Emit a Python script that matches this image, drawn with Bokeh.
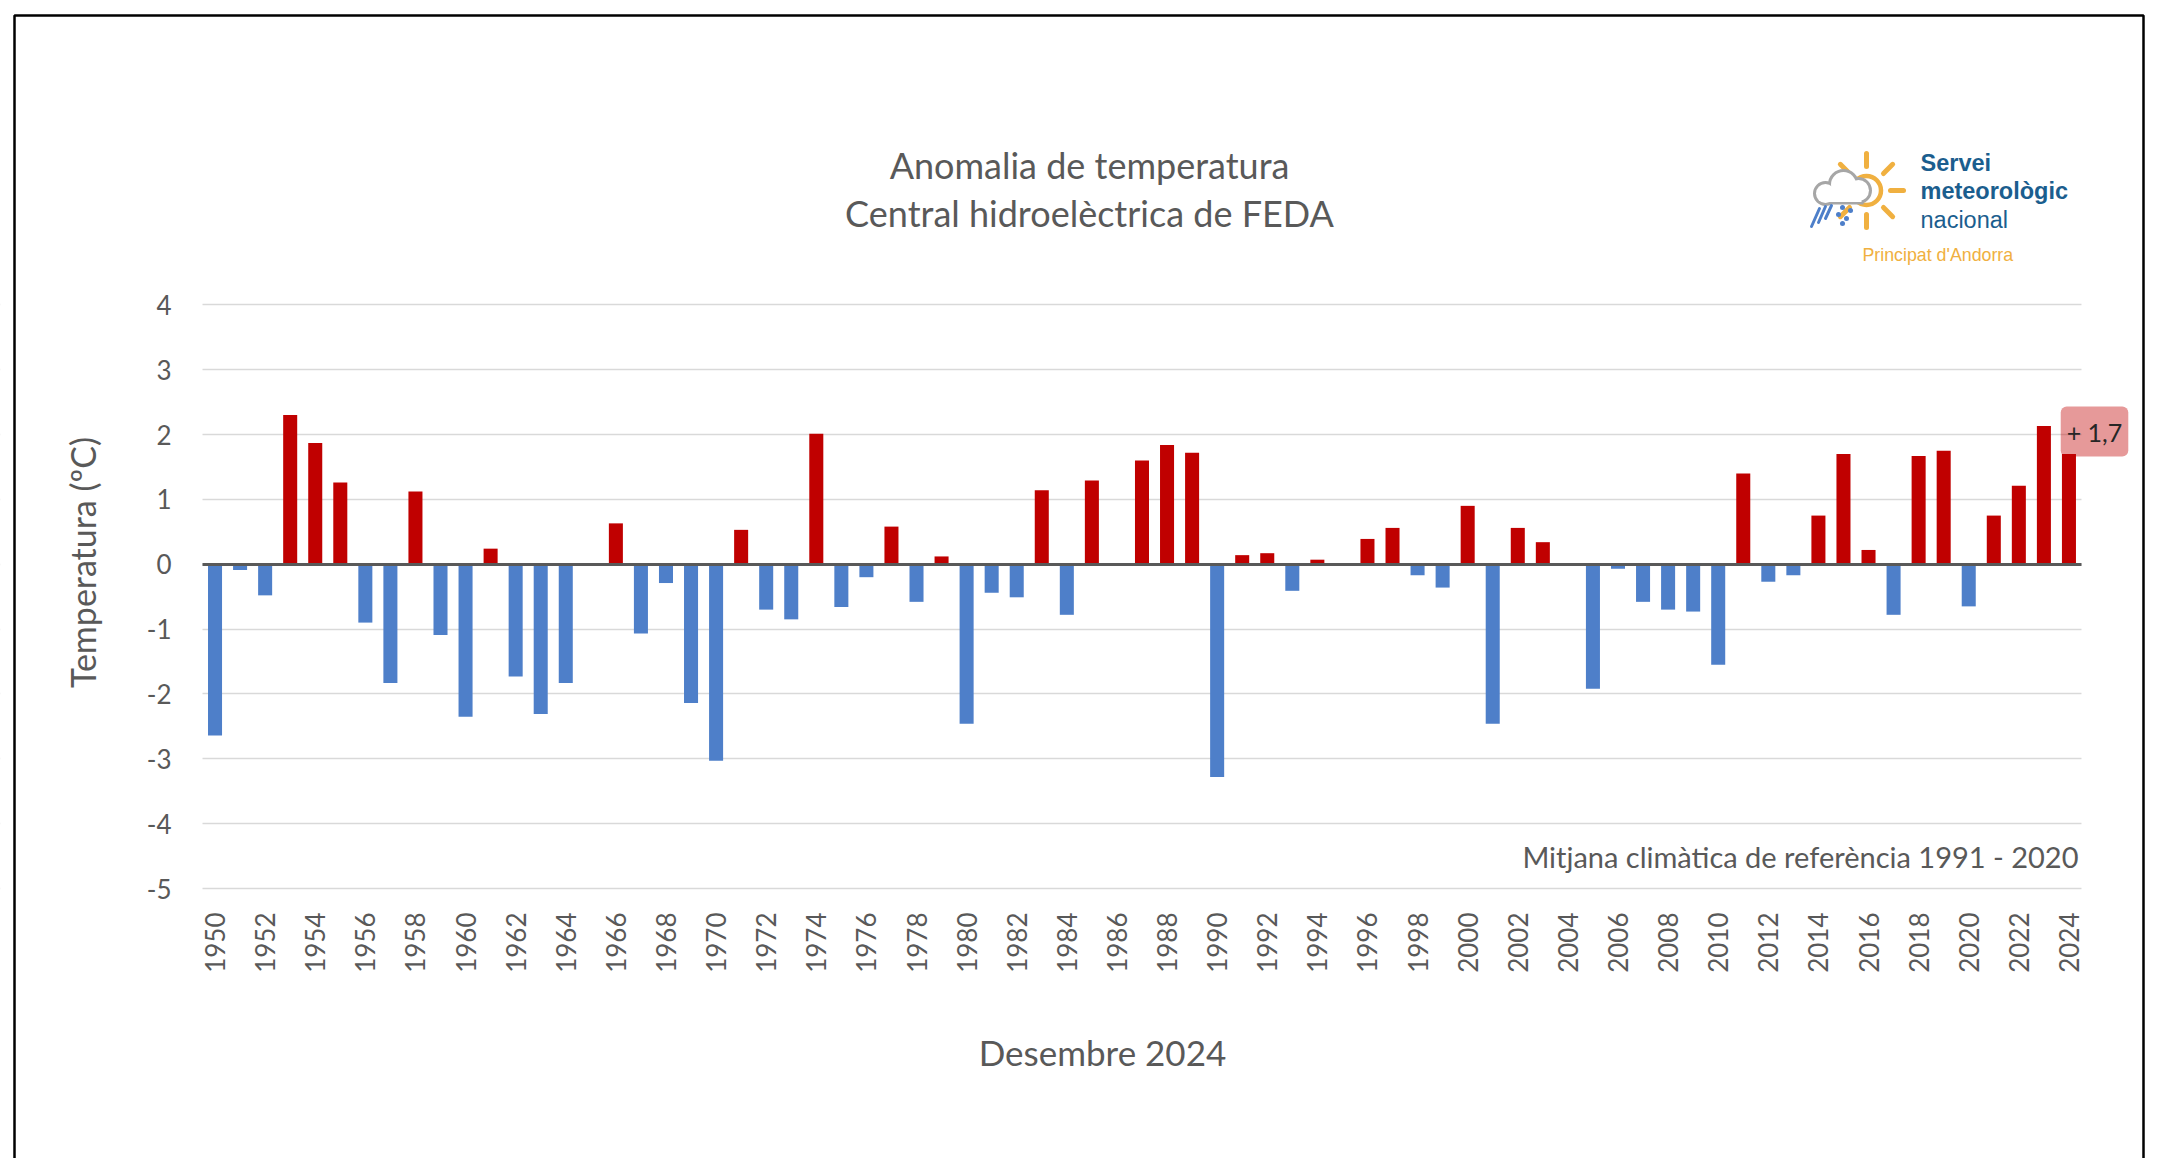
from math import pi, cos, sin, radians
from bokeh.plotting import figure
from bokeh.models import (ColumnDataSource, Range1d, FixedTicker, Label, BoxAnnotation,
                          LinearAxis, Grid)
from bokeh.embed import file_html
from bokeh.resources import INLINE

# ---------------- data ----------------
years = list(range(1950, 2025))
anomaly = [
    -2.64, -0.09, -0.48, 2.30, 1.87, 1.26, -0.90, -1.83, 1.12, -1.09,   # 1950-1959
    -2.35, 0.24, -1.73, -2.31, -1.83, 0.00, 0.63, -1.07, -0.29, -2.14,  # 1960-1969
    -3.03, 0.53, -0.70, -0.85, 2.01, -0.66, -0.20, 0.58, -0.58, 0.12,   # 1970-1979
    -2.46, -0.44, -0.51, 1.14, -0.78, 1.29, 0.00, 1.60, 1.84, 1.72,     # 1980-1989
    -3.28, 0.14, 0.17, -0.41, 0.07, 0.00, 0.39, 0.56, -0.17, -0.36,     # 1990-1999
    0.90, -2.46, 0.56, 0.34, 0.00, -1.92, -0.07, -0.58, -0.70, -0.73,   # 2000-2009
    -1.55, 1.40, -0.27, -0.17, 0.75, 1.70, 0.22, -0.78, 1.67, 1.75,     # 2010-2019
    -0.65, 0.75, 1.21, 2.13, 1.70,                                      # 2020-2024
]
tick_years = list(range(1950, 2025, 2))
y_ticks = list(range(-5, 5))
title_lines = ["Anomalia de temperatura", "Central hidroelèctrica de FEDA"]
y_title = "Temperatura (ºC)"
x_title = "Desembre 2024"
note = "Mitjana climàtica de referència 1991 - 2020"
logo_lines = ["Servei", "meteorològic", "nacional"]
logo_sub = "Principat d'Andorra"

RED = "#C00000"
BLUE = "#4E7FC9"
GREY_TXT = "#595959"
ORANGE = "#F0B040"
BLUE_LOGO = "#1B5E8E"
FONT = "Lato"

# plot-area extent in data units (bars + gridlines live inside it)
X0, X1 = years[0] - 0.5, years[-1] + 0.5
Y0, Y1 = y_ticks[0], y_ticks[-1]
# the frame covers the whole canvas; the chart area is placed inside it
PX_PER_YEAR = 25.053
PX_PER_UNIT = 64.856
LEFT_PX, TOP_PX = 202, 304.3
W, H = 2157, 1158
xs = X0 - LEFT_PX / PX_PER_YEAR
ys = Y1 + TOP_PX / PX_PER_UNIT

def px(xp):   # canvas pixel -> data x (for decoration placement)
    return xs + xp / PX_PER_YEAR

def py(yp):   # canvas pixel -> data y
    return ys - yp / PX_PER_UNIT

colors = [RED if v > 0 else BLUE for v in anomaly]
src = ColumnDataSource(dict(x=years, top=anomaly, color=colors))

p = figure(width=W, height=H, output_backend="svg", toolbar_location=None,
           x_range=Range1d(xs, xs + W / PX_PER_YEAR),
           y_range=Range1d(ys - H / PX_PER_UNIT, ys),
           x_axis_location=None, y_axis_location=None,
           min_border=0, min_border_left=0, min_border_right=0,
           min_border_top=0, min_border_bottom=0)
p.title.visible = False
p.outline_line_color = None
p.background_fill_color = "white"
p.border_fill_color = "white"

# axes placed at the chart-area edges
yax = LinearAxis(fixed_location=X0, ticker=FixedTicker(ticks=y_ticks))
xax = LinearAxis(fixed_location=Y0, ticker=FixedTicker(ticks=tick_years))
zax = LinearAxis(fixed_location=0, ticker=FixedTicker(ticks=[]), bounds=(X0, X1),
                 axis_line_color=GREY_TXT, axis_line_width=3)
zax.major_label_text_font_size = "0px"
p.add_layout(yax, "left")
p.add_layout(xax, "below")
for ax in (xax, yax):
    ax.axis_line_color = None
    ax.major_tick_line_color = None
    ax.minor_tick_line_color = None
    ax.major_tick_out = 0
    ax.major_tick_in = 0
    ax.major_label_text_font = FONT
    ax.major_label_text_font_size = "26px"
    ax.major_label_text_color = GREY_TXT
yax.major_label_overrides = {v: str(v) for v in y_ticks}
yax.major_label_standoff = 31
xax.major_label_standoff = 24
xax.major_label_orientation = pi / 2

p.xgrid.grid_line_color = None
p.ygrid.grid_line_color = None
grid = Grid(dimension=1, ticker=FixedTicker(ticks=y_ticks), grid_line_color="#D9D9D9",
            grid_line_width=1.5)
p.add_layout(grid, "center")
# limit gridlines to the chart area
p.add_layout(BoxAnnotation(right=X0, fill_color="white", fill_alpha=1, line_alpha=0, level="underlay"))
p.add_layout(BoxAnnotation(left=X1, fill_color="white", fill_alpha=1, line_alpha=0, level="underlay"))

p.vbar(x="x", top="top", bottom=0, width=0.56, color="color", source=src, line_width=0)
p.add_layout(zax, "below")

def lab(x, y, text, size, **kw):
    kw.setdefault("text_color", GREY_TXT)
    kw.setdefault("text_font", FONT)
    kw.setdefault("text_baseline", "alphabetic")
    p.add_layout(Label(x=x, y=y, text=text, text_font_size=size, **kw))

# titles
lab(px(1089), py(164), title_lines[0], "36px", text_align="center")
lab(px(1089), py(212), title_lines[1], "36px", text_align="center")
lab(px(82), py(562), y_title, "34px", angle=pi / 2, text_align="center", text_baseline="middle")
lab(px(1102), py(1051), x_title, "35px", text_align="center")
lab(px(2078), py(856), note, "29px", text_align="right")

# value badge for last year
badge = "+ " + f"{anomaly[-1]:.1f}".replace(".", ",")
p.add_layout(Label(x=px(2094), y=py(431), text=badge, text_font=FONT, text_font_size="25px",
                   text_color="#262626", text_align="center", text_baseline="middle",
                   background_fill_color=RED, background_fill_alpha=0.4,
                   padding=(6, 10), border_radius=6))

# ---------------- logo (decoration) ----------------
sx, sy = 1866, 190
ray_ang = [90, 45, 0, -45, -90, -135, 135, 180]
p.segment(x0=[px(sx + 24 * cos(radians(a))) for a in ray_ang],
          y0=[py(sy - 24 * sin(radians(a))) for a in ray_ang],
          x1=[px(sx + 37 * cos(radians(a))) for a in ray_ang],
          y1=[py(sy - 37 * sin(radians(a))) for a in ray_ang],
          line_color=ORANGE, line_width=5, line_cap="round")
p.scatter(x=[px(sx)], y=[py(sy)], size=29, marker="circle", fill_color="white",
          line_color=ORANGE, line_width=4.5)
# cloud: grey outline made of puffs
puff_x = [1825, 1843, 1858]
puff_y = [193, 184, 190]
puff_d = [19, 25, 21]
CLOUD = "#A6A6A6"
p.scatter(x=[px(v) for v in puff_x], y=[py(v) for v in puff_y], size=[d + 6 for d in puff_d],
          marker="circle", fill_color=CLOUD, line_width=0)
p.rect(x=[px(1842)], y=[py(196)], width=[42], height=[16], width_units="screen",
       height_units="screen", fill_color=CLOUD, line_width=0)
p.scatter(x=[px(v) for v in puff_x], y=[py(v) for v in puff_y], size=puff_d,
          marker="circle", fill_color="white", line_width=0)
p.rect(x=[px(1842)], y=[py(195.5)], width=[38], height=[12], width_units="screen",
       height_units="screen", fill_color="white", line_width=0)
# rain and snow
p.segment(x0=[px(1811), px(1818), px(1825)], y0=[py(226), py(222), py(218)],
          x1=[px(1819), px(1825), px(1831)], y1=[py(208), py(206), py(205)],
          line_color=BLUE, line_width=3, line_cap="round")
p.scatter(x=[px(1842), px(1850), px(1838), px(1846), px(1842)],
          y=[py(207), py(210), py(214), py(218), py(223)],
          size=5, marker="circle", fill_color=BLUE, line_width=0)

lab(px(1920), py(162), logo_lines[0], "23.5px", text_color=BLUE_LOGO,
    text_font="Liberation Sans", text_font_style="bold")
lab(px(1920), py(190), logo_lines[1], "23.5px", text_color=BLUE_LOGO,
    text_font="Liberation Sans", text_font_style="bold")
lab(px(1920), py(219), logo_lines[2], "23.5px", text_color=BLUE_LOGO,
    text_font="Liberation Sans")
lab(px(1862), py(254), logo_sub, "17.8px", text_color=ORANGE, text_font="Liberation Sans")

# outer frame of the chart object
p.add_layout(BoxAnnotation(left=px(14), right=px(2143), top=py(15), bottom=py(1300),
                           fill_alpha=0, line_color="black", line_alpha=1, line_width=2.5))

open("out.html", "w").write(file_html(p, INLINE))
